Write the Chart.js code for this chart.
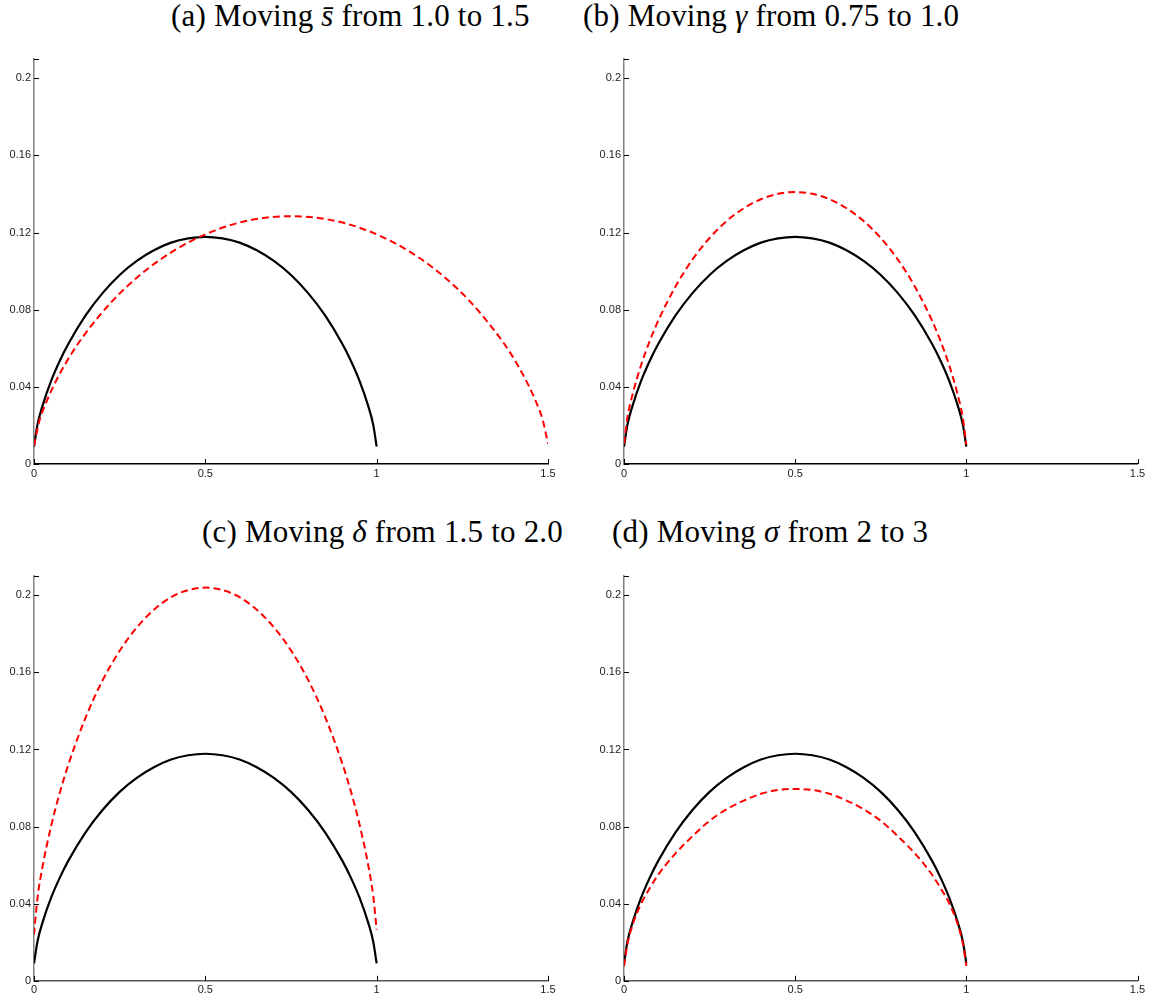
<!DOCTYPE html>
<html>
<head>
<meta charset="utf-8">
<script src="https://cdn.jsdelivr.net/npm/chart.js@4.4.1/dist/chart.umd.min.js"></script>
<style>
    body { margin: 0; background: #fff; width: 1152px; height: 1000px; position: relative; overflow: hidden; }
    .title {
        position: absolute;
        font-family: 'Liberation Serif', 'DejaVu Serif', serif;
        font-size: 31px;
        letter-spacing: 0.2px;
        white-space: nowrap;
        color: #000;
    }
    .title i { font-style: italic; }
    canvas { position: absolute; }
</style>
</head>
<body>
<div class="title" id="title-a" style="left:171px; top:-2px;">(a) Moving <i>s̄</i> from 1.0 to 1.5</div>
<div class="title" id="title-b" style="left:583px; top:-2px;">(b) Moving <i>γ</i> from 0.75 to 1.0</div>
<div class="title" id="title-c" style="left:202px; top:514px;">(c) Moving <i>δ</i> from 1.5 to 2.0</div>
<div class="title" id="title-d" style="left:612px; top:514px;">(d) Moving <i>σ</i> from 2 to 3</div>

<canvas id="chart-a"></canvas>
<canvas id="chart-b"></canvas>
<canvas id="chart-c"></canvas>
<canvas id="chart-d"></canvas>

<script>
// tick values and labels (same on every panel)
const xTickVals = [0, 0.5, 1, 1.5];
const xTickLabels = ['0', '0.5', '1', '1.5'];
const yTickVals = [0, 0.04, 0.08, 0.12, 0.16, 0.2];
const yTickLabels = ['0', '0.04', '0.08', '0.12', '0.16', '0.2'];

// x grid for curves living on [0, 1]
const xUnit = [0, 0.01, 0.025, 0.05, 0.075, 0.1, 0.15, 0.2, 0.25, 0.3, 0.35, 0.4, 0.45, 0.5,
               0.55, 0.6, 0.65, 0.7, 0.75, 0.8, 0.85, 0.9, 0.925, 0.95, 0.975, 0.99, 1];

// baseline (black solid) - same curve in all four panels
const baseline = [0.009, 0.0203, 0.0303, 0.0431, 0.0534, 0.0622, 0.0769, 0.0886, 0.098, 0.1053, 0.1108, 0.1148, 0.117, 0.1178,
                  0.117, 0.1148, 0.1108, 0.1053, 0.098, 0.0886, 0.0769, 0.0622, 0.0534, 0.0431, 0.0303, 0.0203, 0.009];

// (a) s-bar moved to 1.5, the curve now spans [0, 1.5]
const xWide = [0, 0.015, 0.0375, 0.075, 0.1125, 0.15, 0.225, 0.3, 0.375, 0.45, 0.525, 0.6, 0.675, 0.75,
               0.825, 0.9, 0.975, 1.05, 1.125, 1.2, 1.275, 1.35, 1.3875, 1.425, 1.4625, 1.485, 1.5];
const movedSbar = [0.0095, 0.0219, 0.0328, 0.0467, 0.0581, 0.0677, 0.0838, 0.0966, 0.1068, 0.1148, 0.1209, 0.1252, 0.1277, 0.1285,
                   0.1277, 0.1252, 0.1209, 0.1148, 0.1068, 0.0966, 0.0838, 0.0677, 0.0583, 0.047, 0.0333, 0.0226, 0.0105];

// (b) gamma moved to 1.0
const movedGamma = [0.0105, 0.0241, 0.0361, 0.0513, 0.0637, 0.0743, 0.0919, 0.106, 0.1172, 0.126, 0.1326, 0.1373, 0.1401, 0.141,
                    0.1401, 0.1373, 0.1326, 0.126, 0.1172, 0.106, 0.0919, 0.0743, 0.0636, 0.0511, 0.0358, 0.0237, 0.01];

// (c) delta moved to 2.0
const movedDelta = [0.024, 0.0427, 0.0593, 0.0803, 0.0974, 0.112, 0.1363, 0.1558, 0.1712, 0.1833, 0.1925, 0.199, 0.2027, 0.204,
                    0.2027, 0.199, 0.1925, 0.1834, 0.1714, 0.1561, 0.1367, 0.1126, 0.0981, 0.0811, 0.0603, 0.044, 0.0265];

// (d) sigma moved to 3
const movedSigma = [0.0075, 0.019, 0.029, 0.04, 0.048, 0.055, 0.066, 0.075, 0.083, 0.089, 0.0935, 0.097, 0.099, 0.0995,
                    0.099, 0.097, 0.0935, 0.089, 0.083, 0.075, 0.066, 0.055, 0.048, 0.0402, 0.0292, 0.0192, 0.0077];

const toPoints = (xs, ys) => xs.map((x, i) => ({ x, y: ys[i] }));

// draws the short inward-pointing tick marks, matlab style
const inwardTicks = {
    id: 'inwardTicks',
    afterDraw(chart) {
        const { ctx, chartArea: a, scales: { x, y } } = chart;
        ctx.save();
        ctx.lineWidth = 1;
        ctx.strokeStyle = '#000';
        ctx.beginPath();
        yTickVals.forEach(v => {
            const py = Math.round(y.getPixelForValue(v)) + 0.5;
            ctx.moveTo(a.left, py);
            ctx.lineTo(a.left + 5, py);
        });
        ctx.moveTo(a.left, Math.round(a.top) + 0.5);
        ctx.lineTo(a.left + 5, Math.round(a.top) + 0.5);
        xTickVals.forEach(v => {
            const px = Math.round(x.getPixelForValue(v)) + 0.5;
            ctx.moveTo(px, a.bottom);
            ctx.lineTo(px, a.bottom - 5);
        });
        ctx.stroke();
        ctx.restore();
    }
};

function makePanel(id, box, moved, movedX, xAxisColor) {
    const canvas = document.getElementById(id);
    const yAxisW = 34, xAxisH = 18;
    const cLeft = box.left - yAxisW, cTop = box.top - 20;
    const cRight = Math.min(1152, box.right + 16), cBottom = Math.min(1000, box.bottom + xAxisH + 2);
    canvas.width = cRight - cLeft;
    canvas.height = cBottom - cTop;
    canvas.style.left = cLeft + 'px';
    canvas.style.top = cTop + 'px';

    return new Chart(canvas, {
        type: 'line',
        data: {
            datasets: [
                {
                    label: 'moved',
                    data: toPoints(movedX, moved),
                    borderColor: '#ff0000',
                    borderWidth: 2,
                    borderDash: [7, 4],
                    pointRadius: 0,
                    cubicInterpolationMode: 'monotone',
                    fill: false
                },
                {
                    label: 'baseline',
                    data: toPoints(xUnit, baseline),
                    borderColor: '#000000',
                    borderWidth: 2.2,
                    pointRadius: 0,
                    cubicInterpolationMode: 'monotone',
                    fill: false
                }
            ]
        },
        options: {
            responsive: false,
            animation: false,
            layout: {
                padding: {
                    left: 0,
                    top: box.top - cTop,
                    right: cRight - box.right,
                    bottom: cBottom - box.bottom - xAxisH
                }
            },
            plugins: {
                legend: { display: false },
                tooltip: { enabled: false }
            },
            scales: {
                x: {
                    type: 'linear',
                    min: 0,
                    max: 1.5,
                    afterBuildTicks: s => { s.ticks = xTickVals.map(v => ({ value: v })); },
                    afterFit: s => { s.height = xAxisH; },
                    grid: { display: false, drawTicks: false },
                    border: { color: xAxisColor, width: 1.5 },
                    ticks: {
                        padding: 3,
                        color: '#222',
                        font: { family: 'Liberation Sans, Arial, sans-serif', size: 11 },
                        maxRotation: 0,
                        callback: (v, i) => xTickLabels[i]
                    }
                },
                y: {
                    min: 0,
                    max: 0.21,
                    afterBuildTicks: s => { s.ticks = yTickVals.map(v => ({ value: v })); },
                    afterFit: s => { s.width = yAxisW; },
                    grid: { display: false, drawTicks: false },
                    border: { color: '#808080', width: 1.5 },
                    ticks: {
                        padding: 3,
                        color: '#222',
                        font: { family: 'Liberation Sans, Arial, sans-serif', size: 11 },
                        callback: (v, i) => yTickLabels[i]
                    }
                }
            }
        },
        plugins: [inwardTicks]
    });
}

makePanel('chart-a', { left: 34, top: 58.7, right: 548, bottom: 464 }, movedSbar, xWide, '#000');
makePanel('chart-b', { left: 624, top: 58.7, right: 1137.5, bottom: 464 }, movedGamma, xUnit, '#000');
makePanel('chart-c', { left: 34, top: 575.7, right: 548, bottom: 980.8 }, movedDelta, xUnit, '#555');
makePanel('chart-d', { left: 624, top: 575.7, right: 1137.5, bottom: 980.8 }, movedSigma, xUnit, '#555');
</script>
</body>
</html>
